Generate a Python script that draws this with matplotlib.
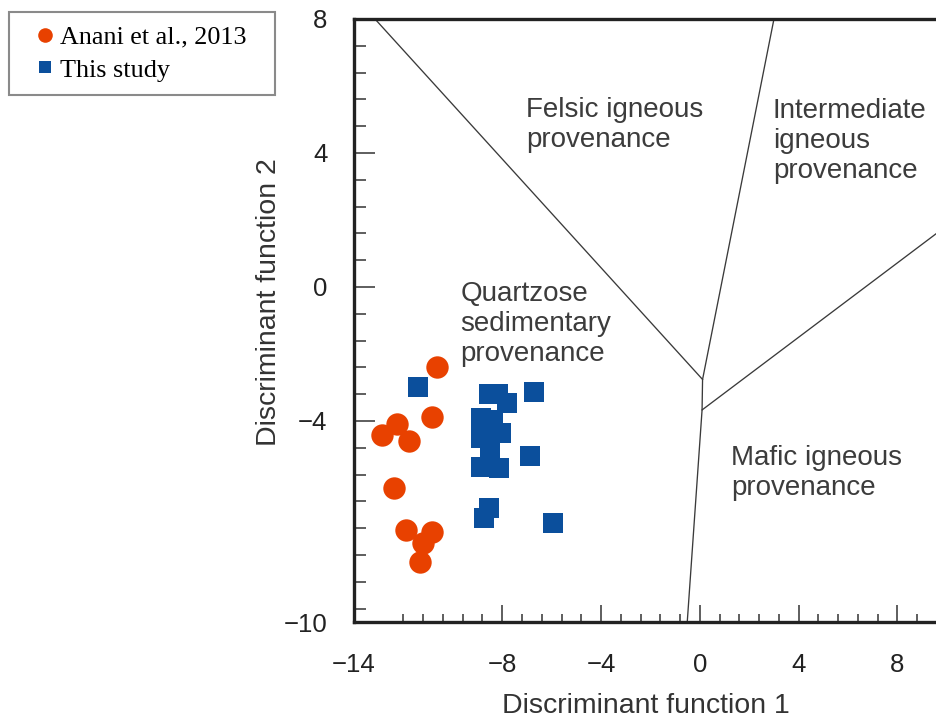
import numpy as np
import matplotlib
matplotlib.use("Agg")
import matplotlib.pyplot as plt
from matplotlib.lines import Line2D
from matplotlib.ticker import FixedLocator, MultipleLocator

# Discriminant-function scores (DF1, DF2)
anani_x = [-10.65, -10.85, -12.27, -12.88, -11.76, -12.38, -11.91, -10.85, -11.22, -11.33]
anani_y = [-2.40, -3.87, -4.09, -4.42, -4.59, -6.00, -7.25, -7.30, -7.65, -8.22]

study_x = [-11.41, -8.53, -8.17, -7.81, -8.86, -8.36, -8.06, -8.86, -8.49, -8.86,
           -8.13, -6.87, -6.70, -8.53, -8.74, -5.93]
study_y = [-2.99, -3.20, -3.20, -3.45, -3.92, -3.97, -4.37, -4.52, -4.82, -5.36,
           -5.41, -5.04, -3.13, -6.59, -6.89, -7.05]

# Provenance field boundaries
felsic_quartz_x = [-13.15, 0.11]
felsic_quartz_y = [8.0, -2.76]
felsic_inter_x = [3.0, 0.11, 0.09, -0.51]
felsic_inter_y = [8.0, -2.76, -3.67, -10.0]
inter_mafic_x = [0.09, 9.6]
inter_mafic_y = [-3.67, 1.61]

field_labels = ["Felsic igneous\nprovenance",
                "Intermediate\nigneous\nprovenance",
                "Quartzose\nsedimentary\nprovenance",
                "Mafic igneous\nprovenance"]
field_x = [-7.02, 2.95, -9.69, 1.28]
field_y = [5.68, 5.64, 0.18, -4.72]

x_major = [-14, -8, -4, 0, 4, 8]
y_major = [-10, -4, 0, 4, 8]

orange = "#e84100"
blue = "#0b4f9c"
sans = ["Liberation Sans", "DejaVu Sans"]

fig = plt.figure(figsize=(9.37, 7.19), dpi=100)
ax = fig.add_axes([354 / 937, 1 - 622 / 719, 1 - 354 / 937, (622 - 19) / 719])

for bx, by in [(felsic_quartz_x, felsic_quartz_y),
               (felsic_inter_x, felsic_inter_y),
               (inter_mafic_x, inter_mafic_y)]:
    ax.plot(bx, by, color="#3a3a3a", lw=0.95, zorder=1)

ax.scatter(anani_x, anani_y, s=260, marker="o", color=orange, linewidths=0, zorder=3)
ax.scatter(study_x, study_y, s=225, marker="s", color=blue, linewidths=0, zorder=3)

for t, tx, ty in zip(field_labels, field_x, field_y):
    ax.text(tx, ty, t, ha="left", va="top", fontsize=20, color="#3c3c3c",
            family=sans, linespacing=1.2)

ax.set_xlim(-14, 9.6)
ax.set_ylim(-10, 8)

ax.xaxis.set_major_locator(FixedLocator(x_major))
ax.xaxis.set_minor_locator(FixedLocator(np.arange(-12.0, 9.7, 0.8)))
ax.yaxis.set_major_locator(FixedLocator(y_major))
ax.yaxis.set_minor_locator(MultipleLocator(0.8))

ax.tick_params(axis="both", which="both", direction="in", top=False, right=False,
               color="#333333", width=1.1, labelcolor="#222222", labelsize=18.5)
ax.tick_params(axis="x", which="major", length=12.5, pad=22)
ax.tick_params(axis="x", which="minor", length=6)
ax.tick_params(axis="y", which="major", length=15, pad=19)
ax.tick_params(axis="y", which="minor", length=8.5)
for lab in ax.get_xticklabels() + ax.get_yticklabels():
    lab.set_family(sans)

ax.spines["right"].set_visible(False)
for side in ["left", "bottom", "top"]:
    ax.spines[side].set_linewidth(2.4)
    ax.spines[side].set_color("#222222")

ax.set_xlabel("Discriminant function 1", fontsize=20.5, color="#333333", family=sans)
ax.set_ylabel("Discriminant function 2", fontsize=20.5, color="#333333", family=sans)
ax.xaxis.set_label_coords(0.5, -0.117)
ax.yaxis.set_label_coords(-0.123, 0.531)

handles = [Line2D([], [], ls="", marker="o", color=orange, markersize=10.5, markeredgewidth=0),
           Line2D([], [], ls="", marker="s", color=blue, markersize=8, markeredgewidth=0)]
leg = fig.legend(handles, ["Anani et al., 2013", "This study"],
                 loc="upper left", bbox_to_anchor=(9 / 937, (719 - 95) / 719, 266 / 937, 83 / 719),
                 mode="expand", borderaxespad=0, fancybox=False, framealpha=1,
                 edgecolor="#8a8a8a", prop={"family": ["Liberation Serif", "DejaVu Serif"], "size": 18.8},
                 borderpad=0.52, handlelength=1.74, handletextpad=-0.32, labelspacing=0.36)
leg.get_frame().set_linewidth(1.5)

fig.savefig("out.png", dpi=100)
